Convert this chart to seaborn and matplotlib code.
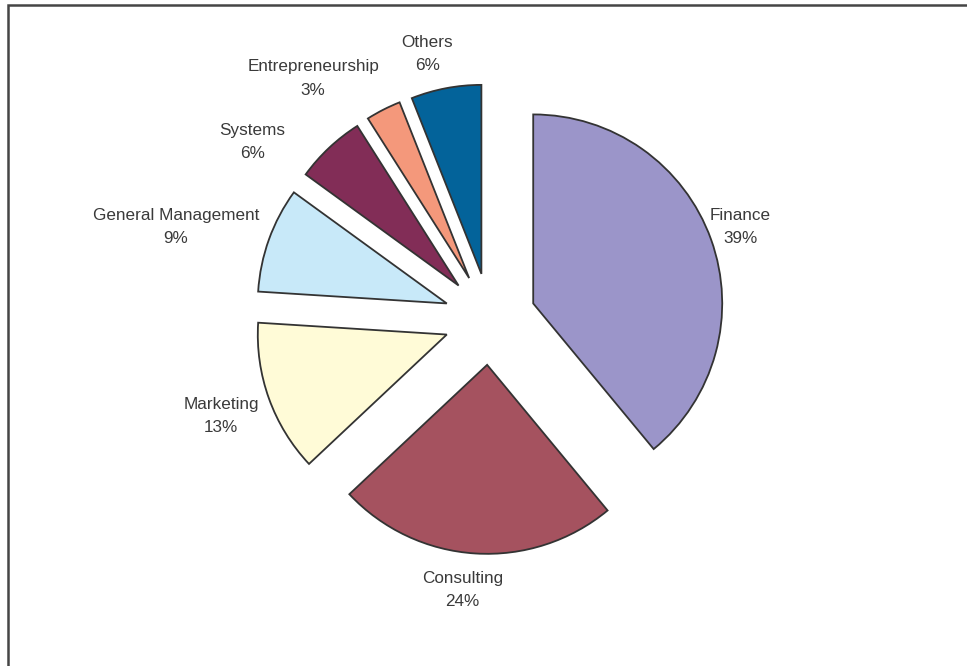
import numpy as np
import matplotlib
matplotlib.use("Agg")
import matplotlib.pyplot as plt
import seaborn as sns
from matplotlib.patches import Rectangle

# ---- data ----
categories = ["Finance", "Consulting", "Marketing", "General Management",
              "Systems", "Entrepreneurship", "Others"]
shares = [39, 24, 13, 9, 6, 3, 6]
pct_labels = ["39%", "24%", "13%", "9%", "6%", "3%", "6%"]
colors = ["#9B95C9", "#A5525F", "#FFFBD7", "#C8E9F9", "#822D57", "#F4987B", "#03639A"]

# ---- layout (label placement relative to each wedge) ----
label_dist = [1.17, 1.20, 1.27, 1.49, 1.33, 1.34, 1.20]
label_shift = [0.5, -2.7, 0.0, 4.0, 12.0, 11.0, 3.0]

W, H = 967, 666
sns.set_theme(style="white")
plt.rcParams['font.family'] = ['Liberation Sans', 'DejaVu Sans']

fig = plt.figure(figsize=(W / 100, H / 100), dpi=100)
fig.patch.set_facecolor("white")
ax = fig.add_axes([0, 0, 1, 1])

cx, cy = 490.0, H - 319.0
r = 189.0
expl = 0.243 * r

wedges, _ = ax.pie(shares, colors=colors, startangle=90, counterclock=False,
                   radius=r, center=(cx, cy), explode=[expl] * len(shares),
                   wedgeprops=dict(edgecolor="#333333", linewidth=1.3))

ax.set_xlim(0, W)
ax.set_ylim(0, H)
ax.set_aspect("equal")
ax.axis("off")

total = float(sum(shares))
theta1 = 90.0
for i, (cat, val, pl) in enumerate(zip(categories, shares, pct_labels)):
    theta2 = theta1 - 360.0 * val / total
    thm = np.deg2rad(0.5 * (theta1 + theta2))
    ax_ = cx + expl * np.cos(thm)
    ay_ = cy + expl * np.sin(thm)
    tl = thm + np.deg2rad(label_shift[i])
    lx = ax_ + label_dist[i] * r * np.cos(tl)
    ly = ay_ + label_dist[i] * r * np.sin(tl)
    ax.text(lx, ly, f"{cat}\n{pl}", ha="center", va="center",
            multialignment="center", fontsize=12.3, color="#3a3a3a",
            linespacing=1.68)
    theta1 = theta2

fig.patches.append(Rectangle((7.5 / W, -0.05), 1.2, 1 - 5.5 / H + 0.05,
                             transform=fig.transFigure, fill=False,
                             edgecolor="#454545", linewidth=1.8))

fig.savefig("out.png", dpi=100, facecolor="white")
